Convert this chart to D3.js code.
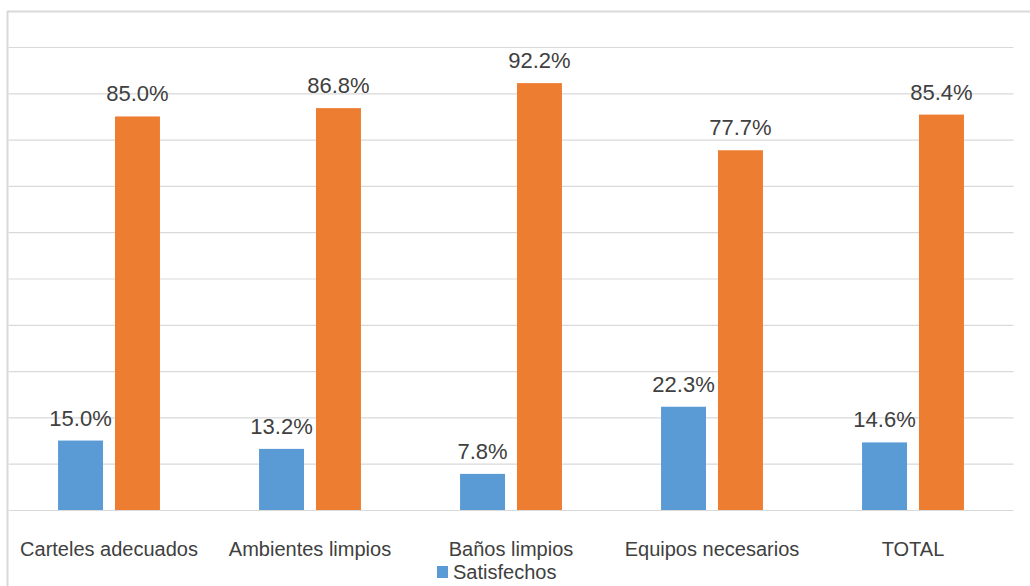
<!DOCTYPE html>
<html>
<head>
<meta charset="utf-8">
<script src="https://cdn.jsdelivr.net/npm/d3@7"></script>
<style>
  body { margin: 0; background: #fff; }
  svg { display: block; font-family: "Liberation Sans", Arial, sans-serif; }
</style>
</head>
<body>
<svg id="chart" width="1030" height="586"></svg>
<script>
(function() {
  const categories = ["Carteles adecuados", "Ambientes limpios", "Baños limpios", "Equipos necesarios", "TOTAL"];
  const seriesNames = ["Satisfechos", "Insatisfechos"];
  const satisfechos = [15.0, 13.2, 7.8, 22.3, 14.6];
  const insatisfechos = [85.0, 86.8, 92.2, 77.7, 85.4];
  const yTicks = [0, 10, 20, 30, 40, 50, 60, 70, 80, 90, 100];
  const colors = ["#5B9BD5", "#ED7D31"];

  const data = categories.map((c, i) => ({ cat: c, values: [satisfechos[i], insatisfechos[i]] }));

  const svg = d3.select("#chart");
  const margin = { top: 47, left: 8.5, right: 16.5, bottom: 76 };
  const width = +svg.attr("width") - margin.left - margin.right;
  const height = +svg.attr("height") - margin.top - margin.bottom;

  // chart frame
  svg.append("line").attr("x1", 7).attr("x2", 1030).attr("y1", 11.5).attr("y2", 11.5)
    .attr("stroke", "#d9d9d9").attr("stroke-width", 2);
  svg.append("line").attr("x1", 7.5).attr("x2", 7.5).attr("y1", 11).attr("y2", 586)
    .attr("stroke", "#d9d9d9").attr("stroke-width", 2);

  const g = svg.append("g").attr("transform", `translate(${margin.left},${margin.top})`);

  const x0 = d3.scaleBand()
    .domain(categories)
    .range([0, width])
    .paddingInner(0.493)
    .paddingOuter(0.2465);

  const x1 = d3.scaleBand()
    .domain([0, 1])
    .range([0, x0.bandwidth()])
    .paddingInner(0.21);

  const y = d3.scaleLinear().domain([0, 100]).range([height, 0]);

  // gridlines
  g.append("g")
    .call(d3.axisLeft(y).tickValues(yTicks).tickSize(-width).tickFormat(""))
    .call(a => a.select(".domain").remove())
    .call(a => a.selectAll("line").attr("stroke", "#d9d9d9").attr("stroke-width", 1.2));

  const groups = g.selectAll(".grp")
    .data(data)
    .enter().append("g")
    .attr("class", "grp")
    .attr("transform", d => `translate(${x0(d.cat)},0)`);

  groups.selectAll("rect")
    .data(d => d.values.map((v, k) => ({ k, v })))
    .enter().append("rect")
    .attr("x", d => x1(d.k))
    .attr("y", d => y(d.v))
    .attr("width", x1.bandwidth())
    .attr("height", d => height - y(d.v))
    .attr("fill", d => colors[d.k]);

  groups.selectAll("text.val")
    .data(d => d.values.map((v, k) => ({ k, v })))
    .enter().append("text")
    .attr("class", "val")
    .attr("x", d => x1(d.k) + x1.bandwidth() / 2)
    .attr("y", d => y(d.v) - 15)
    .attr("text-anchor", "middle")
    .attr("font-size", 22)
    .attr("fill", "#404040")
    .text(d => d.v.toFixed(1) + "%");

  // category labels
  g.append("g")
    .attr("transform", `translate(0,${height})`)
    .call(d3.axisBottom(x0).tickSize(0).tickPadding(32))
    .call(a => a.select(".domain").remove())
    .call(a => a.selectAll("text").attr("font-size", 20).attr("fill", "#404040")
      .attr("font-family", "'Liberation Sans', Arial, sans-serif"));

  // legend (only first entry falls inside the picture)
  const legend = svg.append("g").attr("transform", "translate(437,566)");
  legend.append("rect").attr("width", 11).attr("height", 12).attr("fill", colors[0]);
  legend.append("text").attr("x", 16).attr("y", 13)
    .attr("font-size", 20).attr("fill", "#404040").text(seriesNames[0]);
})();
</script>
</body>
</html>
